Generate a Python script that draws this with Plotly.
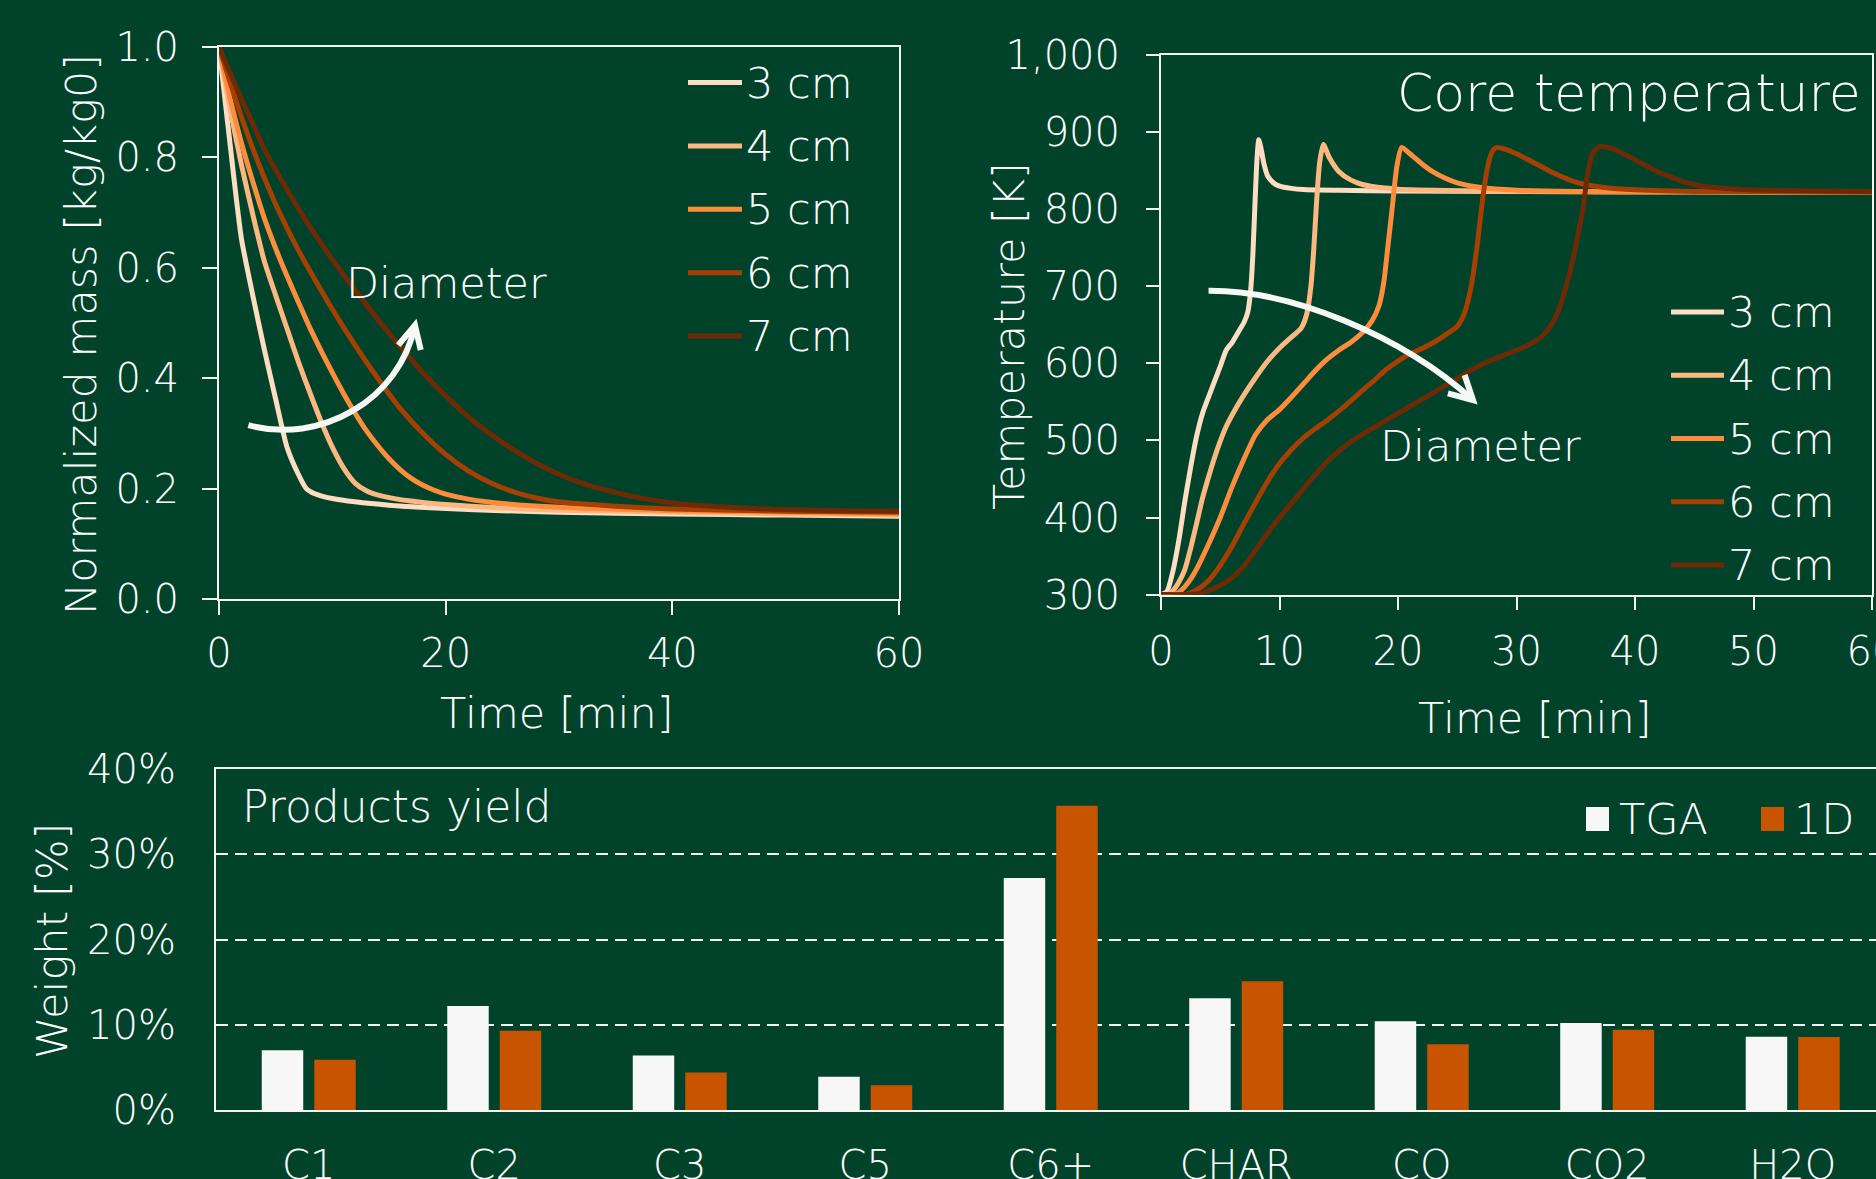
import plotly.graph_objects as go

W, H = 1876, 1179
BG = "#01432A"
FG = "#FFFFFF"
AXIS = "#F4F4F4"
FONT = "DejaVu Sans"
WEIGHT = 300

# ---------------- series definitions ----------------
diameters = ["3 cm", "4 cm", "5 cm", "6 cm", "7 cm"]
line_colors = ["#FEDDC3", "#FDB882", "#FD8D3C", "#A63F03", "#6E2A05"]

# normalized mass [kg/kg0] vs time [min]
mass_time_3cm = [0, 0.5, 1, 1.5, 2, 3, 4, 5, 6, 7, 7.7, 8.2, 9, 10, 12, 15, 20, 25, 30, 40, 50, 60]
mass_3cm = [1.0, 0.91, 0.82, 0.73, 0.65, 0.548, 0.452, 0.362, 0.275, 0.226, 0.2, 0.193, 0.187, 0.182,
            0.176, 0.170, 0.164, 0.160, 0.157, 0.154, 0.152, 0.150]

mass_time_4cm = [0, 0.5, 1, 2, 3, 4, 5, 6, 7, 8, 9, 10, 11, 12, 13, 13.6, 14.5, 16, 18, 20, 25, 30, 40, 50, 60]
mass_4cm = [1.0, 0.94, 0.885, 0.785, 0.695, 0.612, 0.55, 0.49, 0.43, 0.375, 0.322, 0.275, 0.237,
            0.21, 0.196, 0.191, 0.186, 0.180, 0.175, 0.171, 0.165, 0.161, 0.157, 0.154, 0.152]

mass_time_5cm = [0, 0.5, 1, 2, 3, 4, 5, 6, 7, 8, 9, 10, 11, 12, 13, 14, 15, 16, 17, 18, 19, 20, 22, 25,
                 30, 40, 50, 60]
mass_5cm = [1.0, 0.95, 0.905, 0.825, 0.755, 0.69, 0.635, 0.585, 0.538, 0.492, 0.45, 0.41, 0.372, 0.337,
            0.305, 0.278, 0.254, 0.234, 0.218, 0.206, 0.197, 0.19, 0.181, 0.173, 0.166, 0.160, 0.157, 0.154]

mass_time_6cm = [0, 1, 2, 3, 4, 5, 6, 7, 8, 10, 12, 14, 16, 18, 20, 22, 24, 26, 28, 30, 35, 40, 50, 60]
mass_6cm = [1.0, 0.935, 0.872, 0.815, 0.763, 0.715, 0.672, 0.632, 0.595, 0.525, 0.46, 0.40, 0.345,
            0.30, 0.262, 0.232, 0.21, 0.194, 0.183, 0.176, 0.168, 0.163, 0.159, 0.157]

mass_time_7cm = [0, 1, 2, 3, 4, 6, 8, 10, 12, 14, 16, 18, 20, 22, 24, 26, 28, 30, 32, 34, 36, 38, 40,
                 45, 50, 55, 60]
mass_7cm = [1.0, 0.952, 0.905, 0.86, 0.815, 0.742, 0.675, 0.615, 0.56, 0.507, 0.457, 0.41, 0.368, 0.33,
            0.298, 0.27, 0.246, 0.226, 0.21, 0.198, 0.188, 0.18, 0.174, 0.166, 0.162, 0.160, 0.159]

# core temperature [K] vs time [min]
temp_time_3cm = [0, 0.5, 1, 1.5, 2, 2.5, 3, 3.5, 4, 4.5, 5, 5.5, 6, 6.5, 7, 7.3, 7.55, 7.75, 7.95, 8.1,
                 8.25, 8.45, 8.7, 9, 9.5, 10, 11, 12, 15, 20, 30, 45, 60]
temp_3cm = [300, 304, 330, 370, 420, 465, 505, 535, 556, 576, 596, 617, 627, 640, 653, 665, 692, 740,
            815, 865, 890, 878, 858, 843, 834, 830, 827, 825.5, 824.5, 823.5, 823, 822.5, 822]

temp_time_4cm = [0, 0.5, 1, 1.5, 2, 2.5, 3, 3.5, 4, 4.5, 5, 5.5, 6, 7, 8, 9, 10, 11, 11.8, 12.3, 12.65,
                 12.9, 13.15, 13.4, 13.7, 14.2, 15, 16, 17, 18, 20, 25, 30, 45, 60]
temp_4cm = [300, 300, 305, 316, 332, 360, 392, 425, 452, 477, 499, 518, 533, 559, 582, 603, 620, 634,
            645, 664, 700, 750, 815, 862, 884, 867, 849, 838, 832, 829, 826, 824, 823, 822.5, 822]

temp_time_5cm = [0, 1, 1.5, 2, 2.5, 3, 4, 5, 6, 7, 8, 9, 10, 11, 12, 13, 14, 15, 16, 17, 17.8, 18.4,
                 18.8, 19.1, 19.5, 19.9, 20.3, 21, 22, 23, 24, 25, 27, 30, 35, 45, 60]
temp_5cm = [300, 300, 303, 310, 320, 333, 365, 400, 440, 476, 508, 527, 540, 556, 573, 590, 605, 617,
            627, 640, 655, 675, 705, 745, 800, 855, 880, 872, 859, 848, 840, 834, 828, 824.5, 823,
            822.5, 822]

temp_time_6cm = [0, 2, 3, 4, 5, 6, 7, 8, 9, 10, 11, 12, 13, 14, 15, 16, 17, 18, 19, 20, 21, 22, 23, 24,
                 25, 25.6, 26.2, 26.7, 27.1, 27.5, 27.9, 28.3, 29, 30, 31, 32, 33, 34, 35, 36.5, 38, 41,
                 45, 60]
temp_6cm = [300, 300, 306, 318, 338, 363, 392, 420, 447, 470, 488, 503, 515, 526, 538, 551, 565, 578,
            592, 603, 612, 619, 627, 637, 648, 665, 702, 755, 808, 850, 873, 880, 878, 872, 864, 856,
            848, 841, 835, 830, 827, 824.5, 823, 822]

temp_time_7cm = [0, 2, 3, 4, 5, 6, 7, 8, 9, 10, 11, 12, 13, 14, 15, 16, 17, 18, 19, 20, 21, 22, 23, 24,
                 25, 26, 27, 28, 29, 30, 31, 32, 32.8, 33.5, 34, 34.5, 35.1, 35.6, 36.0, 36.4, 37.0,
                 38, 39, 40, 41, 42, 43, 44, 45, 46, 48, 50, 55, 60]
temp_7cm = [300, 300, 301, 305, 312, 322, 337, 358, 380, 400, 418, 437, 455, 472, 486, 498, 508, 517,
            526, 535, 544, 553, 562, 571, 580, 590, 598, 605, 611, 617, 624, 633, 647, 667, 690, 718,
            760, 800, 845, 872, 881, 879, 872, 864, 856, 848, 842, 836, 832, 829, 826.5, 825, 823.5, 823]

mass_series = [(mass_time_3cm, mass_3cm), (mass_time_4cm, mass_4cm), (mass_time_5cm, mass_5cm),
               (mass_time_6cm, mass_6cm), (mass_time_7cm, mass_7cm)]
temp_series = [(temp_time_3cm, temp_3cm), (temp_time_4cm, temp_4cm), (temp_time_5cm, temp_5cm),
               (temp_time_6cm, temp_6cm), (temp_time_7cm, temp_7cm)]

# products yield [% weight]
products = ["C1", "C2", "C3", "C5", "C6+", "CHAR", "CO", "CO2", "H2O"]
yield_tga = [7.0, 12.2, 6.4, 3.9, 27.2, 13.1, 10.4, 10.2, 8.6]
yield_1d = [5.9, 9.3, 4.4, 2.9, 35.7, 15.1, 7.7, 9.4, 8.55]
bar_names = ["TGA", "1D"]
bar_colors = ["#F7F7F7", "#C95400"]

mass_ticks = [0, 0.2, 0.4, 0.6, 0.8, 1.0]
temp_ticks = [300, 400, 500, 600, 700, 800, 900, 1000]
time_ticks_mass = [0, 20, 40, 60]
time_ticks_temp = [0, 10, 20, 30, 40, 50, 60]
yield_ticks = [0, 10, 20, 30, 40]
yield_ticktext = [f"{v}%" for v in yield_ticks]


def px_x(x):
    return x / W


def px_y(y):
    return 1 - y / H


fig = go.Figure()

for (t, m), name, col in zip(mass_series, diameters, line_colors):
    fig.add_trace(go.Scatter(x=t, y=m, mode="lines", name=name, showlegend=False,
                             line=dict(color=col, width=5, shape="spline", smoothing=0.6),
                             xaxis="x", yaxis="y"))

for (t, T), name, col in zip(temp_series, diameters, line_colors):
    fig.add_trace(go.Scatter(x=t, y=T, mode="lines", name=name, showlegend=False,
                             line=dict(color=col, width=5, shape="spline", smoothing=0.6),
                             xaxis="x2", yaxis="y2"))

for vals, name, col in zip([yield_tga, yield_1d], bar_names, bar_colors):
    fig.add_trace(go.Bar(x=products, y=vals, name=name, marker=dict(color=col, line=dict(width=0)),
                         showlegend=False, xaxis="x3", yaxis="y3"))

tickfont = dict(family=FONT, size=40, color=FG, weight=WEIGHT)
common_axis = dict(showline=True, linecolor=AXIS, linewidth=2, showgrid=False, zeroline=False,
                   tickfont=tickfont, tickcolor=AXIS, tickwidth=2, automargin=False)

fig.update_layout(
    width=W, height=H,
    margin=dict(l=0, r=0, t=0, b=0, autoexpand=False),
    paper_bgcolor=BG, plot_bgcolor=BG,
    font=dict(family=FONT, color=FG, weight=WEIGHT),
    showlegend=False,
    barmode="group", bargap=0.434, bargroupgap=0.21,
    xaxis=dict(domain=[px_x(219), px_x(899)], range=[0, 60], tickvals=time_ticks_mass,
               ticks="outside", ticklen=14, mirror=True, anchor="y", ticklabelstandoff=4,
               **common_axis),
    yaxis=dict(domain=[px_y(599), px_y(47)], range=[0, 1], tickvals=mass_ticks, tickformat=".1f",
               ticks="outside", ticklen=15, mirror=True, anchor="x", ticklabelstandoff=15,
               **common_axis),
    xaxis2=dict(domain=[px_x(1161), px_x(1872)], range=[0, 60], tickvals=time_ticks_temp,
                ticks="outside", ticklen=13, mirror=True, anchor="y2", ticklabelstandoff=7,
                ticklabeloverflow="allow", **common_axis),
    yaxis2=dict(domain=[px_y(594.6), px_y(55)], range=[300, 1000], tickvals=temp_ticks,
                tickformat=",", ticks="outside", ticklen=13, mirror=True, anchor="x2",
                ticklabelstandoff=18, **common_axis),
    xaxis3=dict(domain=[px_x(216), 1.0], range=[-0.5, 8.449], type="category", ticks="",
                mirror=True, anchor="y3", ticklabelstandoff=19, ticklabeloverflow="allow",
                **common_axis),
    yaxis3=dict(domain=[px_y(1110), px_y(769)], range=[0, 40], tickvals=yield_ticks,
                ticktext=yield_ticktext, ticks="", anchor="x3", ticklabelstandoff=30,
                showline=True, linecolor=AXIS, linewidth=2, zeroline=False, automargin=False,
                showgrid=True, gridcolor=AXIS, gridwidth=2, griddash="12px,7px",
                tickfont=tickfont),
)

annotations = []
shapes = []


def label(text, x, y, size=43, xanchor="center", angle=0):
    annotations.append(dict(text=text, x=px_x(x), y=px_y(y), xref="paper", yref="paper",
                            xanchor=xanchor, yanchor="middle", showarrow=False, textangle=angle,
                            font=dict(family=FONT, size=size, color=FG, weight=WEIGHT)))


# axis titles
label("Normalized mass [kg/kg0]", 81, 335, angle=-90)
label("Time [min]", 557, 713)
label("Temperature [K]", 1009, 336, angle=-90)
label("Time [min]", 1535, 718)
label("Weight [%]", 52, 941, angle=-90)

# panel captions
label("Core temperature", 1863, 93, size=52, xanchor="right")
label("Products yield", 240, 806, size=44, xanchor="left")
label("Diameter", 446, 283)
label("Diameter", 1480, 446)

# line legends (mass panel and temperature panel)
for (x0, x1, ytop, step) in [(688, 742, 82.6, 63.35), (1671, 1724, 312, 63.25)]:
    for i, (name, col) in enumerate(zip(diameters, line_colors)):
        yc = ytop + i * step
        shapes.append(dict(type="line", xref="paper", yref="paper", x0=px_x(x0), x1=px_x(x1),
                           y0=px_y(yc), y1=px_y(yc), line=dict(color=col, width=5)))
        label(name, x1 + 2, yc, xanchor="left")

# bar legend
for (sx, name, col) in zip([1586, 1761], bar_names, bar_colors):
    shapes.append(dict(type="rect", xref="paper", yref="paper", x0=px_x(sx), x1=px_x(sx + 23),
                       y0=px_y(831), y1=px_y(807), fillcolor=col, line=dict(width=0)))
    label(name, sx + 31, 819, xanchor="left")

# curved "Diameter" arrows, drawn in each panel's data coordinates
arrow_style = dict(color="#F7F7F7", width=6)
shapes.append(dict(type="path", xref="x", yref="y",
                   path="M 2.59,0.315 C 8.91,0.279 15.97,0.3605 17.29,0.496",
                   line=arrow_style))
shapes.append(dict(type="path", xref="x", yref="y",
                   path="M 15.82,0.460 L 17.29,0.496 L 17.8,0.451", line=arrow_style))
shapes.append(dict(type="path", xref="x2", yref="y2",
                   path="M 4.01,694.2 C 10.93,695.1 20.25,636.8 26.33,552.4",
                   line=arrow_style))
shapes.append(dict(type="path", xref="x2", yref="y2",
                   path="M 25.62,584.8 L 26.33,552.4 L 24.21,561.1", line=arrow_style))

fig.update_layout(annotations=annotations, shapes=shapes)

fig.write_html("out.html")
